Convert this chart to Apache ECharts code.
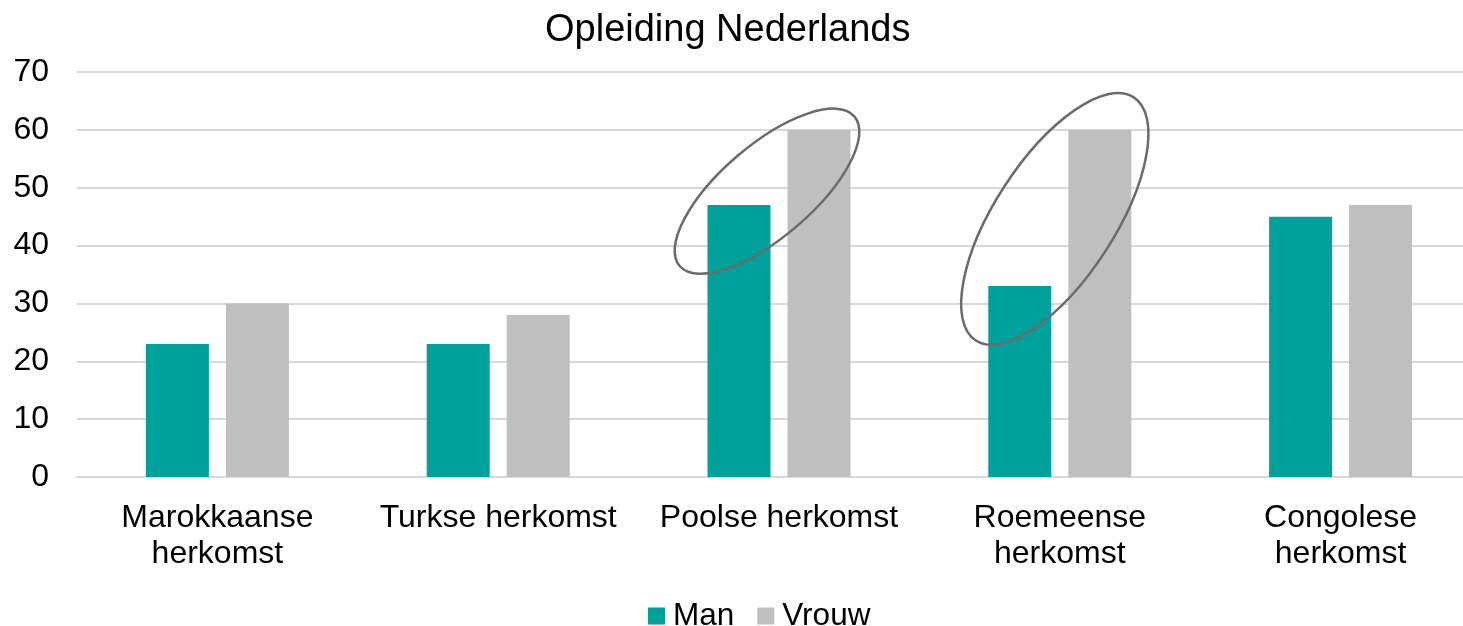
<!DOCTYPE html>
<html>
<head>
<meta charset="utf-8">
<script src="https://cdn.jsdelivr.net/npm/echarts@6/dist/echarts.min.js"></script>
<style>
  html, body { margin: 0; padding: 0; background: #fff; overflow: hidden; }
  #chart { width: 1482px; height: 626px; }
</style>
</head>
<body>
<div id="chart"></div>
<script>
const categories = ['Marokkaanse\nherkomst', 'Turkse herkomst', 'Poolse herkomst', 'Roemeense\nherkomst', 'Congolese\nherkomst']
const manValues = [23, 23, 47, 33, 45]
const vrouwValues = [30, 28, 60, 60, 47]
const yTicks = [0, 10, 20, 30, 40, 50, 60, 70]

// omcirkelde groepen (categorie-index + middelpunt in data-waarde)
const highlights = [
  { cat: 2, value: 49.4, dx: -12, rx: 115, ry: 46, angle: 40.6 },
  { cat: 3, value: 44.6, dx: -5, rx: 145, ry: 60, angle: 57 },
]

const font = 'Liberation Sans, Arial, sans-serif'
const chart = echarts.init(document.getElementById('chart'))

chart.setOption({
  animation: false,
  backgroundColor: '#fff',
  title: {
    text: 'Opleiding Nederlands',
    left: 540,
    top: 7,
    textStyle: { fontFamily: font, fontSize: 38, fontWeight: 'normal', color: '#000' },
  },
  legend: {
    top: 595,
    left: 643,
    icon: 'rect',
    itemWidth: 17,
    itemHeight: 17,
    itemGap: 23,
    textStyle: { fontFamily: font, fontSize: 31.5, color: '#000', padding: [0, 0, 0, 3] },
    data: ['Man', 'Vrouw'],
  },
  grid: {
    left: 77,
    top: 72,
    right: 1,
    bottom: 149,
  },
  xAxis: {
    type: 'category',
    data: categories,
    axisLine: { lineStyle: { color: '#d9d9d9', width: 2 } },
    axisTick: { show: false },
    axisLabel: {
      fontFamily: font,
      fontSize: 32,
      lineHeight: 36,
      color: '#000',
      margin: 23,
      interval: 0,
    },
  },
  yAxis: {
    type: 'value',
    min: yTicks[0],
    max: yTicks[yTicks.length - 1],
    interval: 10,
    axisLine: { show: false },
    axisTick: { show: false },
    splitLine: { lineStyle: { color: '#d9d9d9', width: 2 } },
    axisLabel: { fontFamily: font, fontSize: 32, color: '#000', margin: 28 },
  },
  series: [
    {
      name: 'Man',
      type: 'bar',
      data: manValues,
      barWidth: 63,
      barGap: '27%',
      itemStyle: { color: '#00a19a' },
    },
    {
      name: 'Vrouw',
      type: 'bar',
      data: vrouwValues,
      barWidth: 63,
      itemStyle: { color: '#bfbfbf' },
    },
  ],
})

// ellipsen rond Poolse en Roemeense herkomst
const graphics = highlights.map((h) => {
  const p = chart.convertToPixel({ xAxisIndex: 0, yAxisIndex: 0 }, [h.cat, h.value])
  return {
    type: 'ellipse',
    x: p[0] + h.dx,
    y: p[1],
    rotation: (h.angle * Math.PI) / 180,
    shape: { cx: 0, cy: 0, rx: h.rx, ry: h.ry },
    style: { fill: 'none', stroke: '#6b6b6b', lineWidth: 2.5 },
    z: 10,
  }
})
chart.setOption({ graphic: graphics })
</script>
</body>
</html>
